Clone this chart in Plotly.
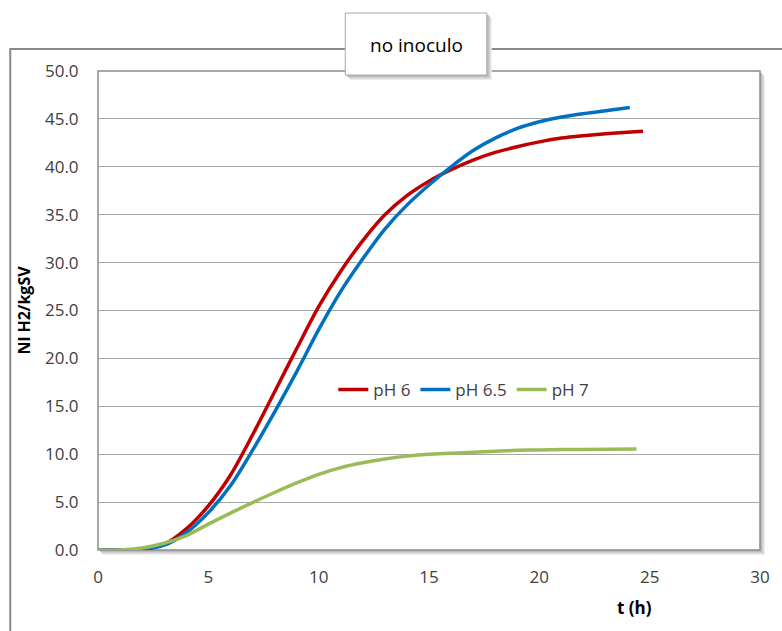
import plotly.graph_objects as go

# ---- data ----
t_ph6 = [0, 1, 2, 3, 4, 5, 6, 7, 8, 9, 10, 11, 12, 13, 14, 15, 16, 17, 18, 19, 20, 21, 22, 23, 24, 24.7]
v_ph6 = [0, 0.0, 0.1, 0.6, 2.2, 4.6, 7.8, 12.0, 16.5, 21.0, 25.4, 29.1, 32.3, 35.0, 37.0, 38.5, 39.7,
         40.7, 41.5, 42.1, 42.6, 43.0, 43.25, 43.45, 43.6, 43.7]

t_ph65 = [0, 1, 2, 3, 4, 5, 6, 7, 8, 9, 10, 11, 12, 13, 14, 15, 16, 17, 18, 19, 20, 21, 22, 23, 24.1]
v_ph65 = [0, 0.0, 0.05, 0.5, 1.8, 3.9, 6.7, 10.4, 14.4, 18.6, 23.0, 27.0, 30.4, 33.5, 36.0, 38.1, 40.0,
          41.7, 43.0, 44.0, 44.7, 45.2, 45.55, 45.85, 46.2]

t_ph7 = [0, 1, 2, 3, 4, 5, 6, 7, 8, 9, 10, 11, 12, 13, 14, 15, 16, 17, 18, 19, 20, 22, 24.4]
v_ph7 = [0, 0.0, 0.2, 0.7, 1.5, 2.7, 3.85, 4.95, 6.0, 7.0, 7.9, 8.6, 9.1, 9.5, 9.8, 10.0, 10.1, 10.2,
         10.3, 10.4, 10.45, 10.5, 10.55]

series_names = ["pH 6", "pH 6.5", "pH 7"]
series_colors = ["#C00000", "#0070C0", "#9BBB59"]

x_ticks = [0, 5, 10, 15, 20, 25, 30]
y_ticks = [0, 5, 10, 15, 20, 25, 30, 35, 40, 45, 50]
y_tick_labels = [f"{v:.1f}" for v in y_ticks]

chart_title = "no inoculo"
x_title = "t (h)"
y_title = "Nl H2/kgSV"

# ---- layout geometry (pixels) ----
W, H = 782, 631
PL, PR, PT, PB = 98, 762, 71, 550


def px(x):
    return (x - PL) / (PR - PL)


def py(y):
    return (PB - y) / (PB - PT)


FONT = "Open Sans"
TXT = "#404040"

fig = go.Figure()
for (tx, vy), name, col in zip([(t_ph6, v_ph6), (t_ph65, v_ph65), (t_ph7, v_ph7)], series_names, series_colors):
    fig.add_trace(go.Scatter(x=tx, y=vy, mode="lines", name=name,
                             line=dict(color=col, width=3.5, shape="spline", smoothing=0.8)))

shapes = []
# outer chart border
shapes.append(dict(type="rect", xref="paper", yref="paper", layer="below",
                   x0=px(10), x1=px(W + 10), y0=py(H + 10), y1=py(49),
                   line=dict(color="#8a8a8a", width=2), fillcolor="white"))
# plot area shadow
for off, c in [(5, "#ececec"), (4, "#dedede"), (3, "#cfcfcf"), (2, "#bdbdbd")]:
    shapes.append(dict(type="rect", xref="paper", yref="paper", layer="below",
                       x0=px(PL + off), x1=px(PR + off), y0=py(PB + off), y1=py(PT + off),
                       line=dict(width=0), fillcolor=c))
# plot area
shapes.append(dict(type="rect", xref="paper", yref="paper", layer="below",
                   x0=0, x1=1, y0=0, y1=1, line=dict(color="#8c8c8c", width=1.5), fillcolor="white"))
# title box shadow + box
for off, c in [(5, "#ececec"), (4, "#dedede"), (3, "#cfcfcf"), (2, "#bdbdbd")]:
    shapes.append(dict(type="rect", xref="paper", yref="paper", layer="above",
                       x0=px(346 + off), x1=px(488 + off), y0=py(75 + off), y1=py(13 + off),
                       line=dict(width=0), fillcolor=c))
shapes.append(dict(type="rect", xref="paper", yref="paper", layer="above",
                   x0=px(346), x1=px(488), y0=py(75), y1=py(13),
                   line=dict(color="#a8a8a8", width=1), fillcolor="white"))

fig.update_layout(
    width=W, height=H,
    margin=dict(l=PL, r=W - PR, t=PT, b=H - PB),
    paper_bgcolor="white", plot_bgcolor="rgba(0,0,0,0)",
    font=dict(family=FONT, size=17, color=TXT),
    shapes=shapes,
    showlegend=True,
    legend=dict(orientation="h", x=px(334), y=py(390), xanchor="left", yanchor="middle",
                bgcolor="rgba(0,0,0,0)", font=dict(family=FONT, size=17, color=TXT),
                itemwidth=30, tracegroupgap=0),
    annotations=[
        dict(text=chart_title, xref="paper", yref="paper", x=px(417), y=py(45),
             showarrow=False, font=dict(family=FONT, size=19, color="#000000"),
             xanchor="center", yanchor="middle"),
        dict(text=f"<b>{x_title}</b>", xref="paper", yref="paper", x=px(636), y=py(607),
             showarrow=False, font=dict(family=FONT, size=17, color="#000000"),
             xanchor="center", yanchor="middle"),
    ],
)

fig.update_xaxes(range=[0, 30], tickvals=x_ticks, ticktext=[str(v) for v in x_ticks],
                 showgrid=False, zeroline=False, showline=False,
                 ticks="outside", ticklen=12, tickcolor="rgba(0,0,0,0)",
                 tickfont=dict(family=FONT, size=17, color=TXT), fixedrange=True)
fig.update_yaxes(range=[0, 50], tickvals=y_ticks, ticktext=y_tick_labels,
                 showgrid=True, gridcolor="#a6a6a6", gridwidth=1, zeroline=False, showline=False,
                 ticks="outside", ticklen=15, tickcolor="rgba(0,0,0,0)",
                 tickfont=dict(family=FONT, size=17, color=TXT),
                 title=dict(text=f"<b>{y_title}</b>", font=dict(family=FONT, size=16, color="#000000"),
                            standoff=10), fixedrange=True)

fig.write_html("out.html")
